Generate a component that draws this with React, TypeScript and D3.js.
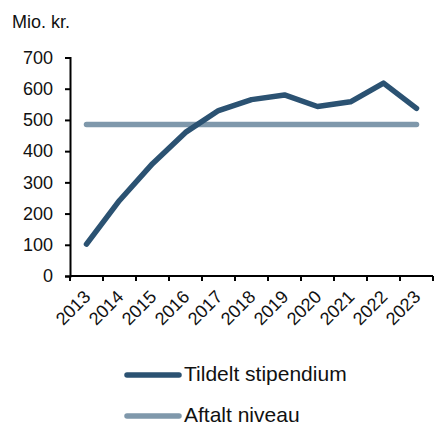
import React, { useEffect, useRef } from "react";
import * as d3 from "d3";

const years = ["2013", "2014", "2015", "2016", "2017", "2018", "2019", "2020", "2021", "2022", "2023"];
const tildelt = [102, 242, 360, 460, 530, 565, 580, 543, 558, 618, 537];
const aftalt = [485, 485, 485, 485, 485, 485, 485, 485, 485, 485, 485];
const yTicks = [0, 100, 200, 300, 400, 500, 600, 700];

const DARK = "#2b5272";
const LIGHT = "#7f98ab";
const FONT = "'Liberation Sans', Arial, sans-serif";

export default function App() {
  const ref = useRef<SVGSVGElement>(null);

  useEffect(() => {
    const svg = d3.select(ref.current);
    svg.selectAll("*").remove();

    const x = d3.scaleBand().domain(years).range([70, 433]);
    const y = d3.scaleLinear().domain([0, 700]).range([276, 57.5]);

    // y axis
    const yAxis = svg.append("g").attr("transform", "translate(70,0)")
      .call(d3.axisLeft(y).tickValues(yTicks).tickSize(5).tickPadding(12));
    yAxis.select(".domain").attr("stroke", "#000").attr("stroke-width", 2);
    yAxis.selectAll(".tick line").attr("stroke-width", 2);
    yAxis.selectAll("text").attr("font-size", 18).attr("font-family", FONT).attr("fill", "#111");

    // x axis, ticks on band edges
    const xg = svg.append("g");
    xg.append("line").attr("x1", 70).attr("x2", 433).attr("y1", 276).attr("y2", 276)
      .attr("stroke", "#000").attr("stroke-width", 2);
    const edges = years.map(d => x(d)!).concat([x(years[years.length - 1])! + x.bandwidth()]);
    xg.selectAll("line.tk").data(edges).join("line").attr("class", "tk")
      .attr("x1", d => d).attr("x2", d => d).attr("y1", 276).attr("y2", 281)
      .attr("stroke", "#000").attr("stroke-width", 2);
    xg.selectAll("text").data(years).join("text")
      .attr("transform", d => `translate(${x(d)! + x.bandwidth() / 2 + 5},${298}) rotate(-45)`)
      .attr("text-anchor", "end")
      .attr("font-size", 18).attr("font-family", FONT).attr("fill", "#111")
      .text(d => d);

    const cx = (d: string) => x(d)! + x.bandwidth() / 2;
    const line = d3.line<number>().x((_, i) => cx(years[i])).y(d => y(d));

    svg.append("path").datum(aftalt).attr("d", line).attr("fill", "none")
      .attr("stroke", LIGHT).attr("stroke-width", 5.5).attr("stroke-linecap", "round");
    svg.append("path").datum(tildelt).attr("d", line).attr("fill", "none")
      .attr("stroke", DARK).attr("stroke-width", 5.5).attr("stroke-linecap", "round")
      .attr("stroke-linejoin", "round");

    svg.append("text").attr("x", 12).attr("y", 28).attr("font-size", 18)
      .attr("font-family", FONT).attr("fill", "#111").text("Mio. kr.");

    // legend
    const legend = [
      { name: "Tildelt stipendium", color: DARK, y: 375 },
      { name: "Aftalt niveau", color: LIGHT, y: 416 },
    ];
    const lg = svg.append("g");
    legend.forEach(l => {
      lg.append("line").attr("x1", 127).attr("x2", 179).attr("y1", l.y).attr("y2", l.y)
        .attr("stroke", l.color).attr("stroke-width", 5.5).attr("stroke-linecap", "round");
      lg.append("text").attr("x", 184).attr("y", l.y + 6).attr("font-size", 21)
        .attr("font-family", FONT).attr("fill", "#111").text(l.name);
    });
  }, []);

  return (
    <svg ref={ref} width={434} height={426}
      style={{ position: "absolute", left: 0, top: 0, background: "#fff" }} />
  );
}
